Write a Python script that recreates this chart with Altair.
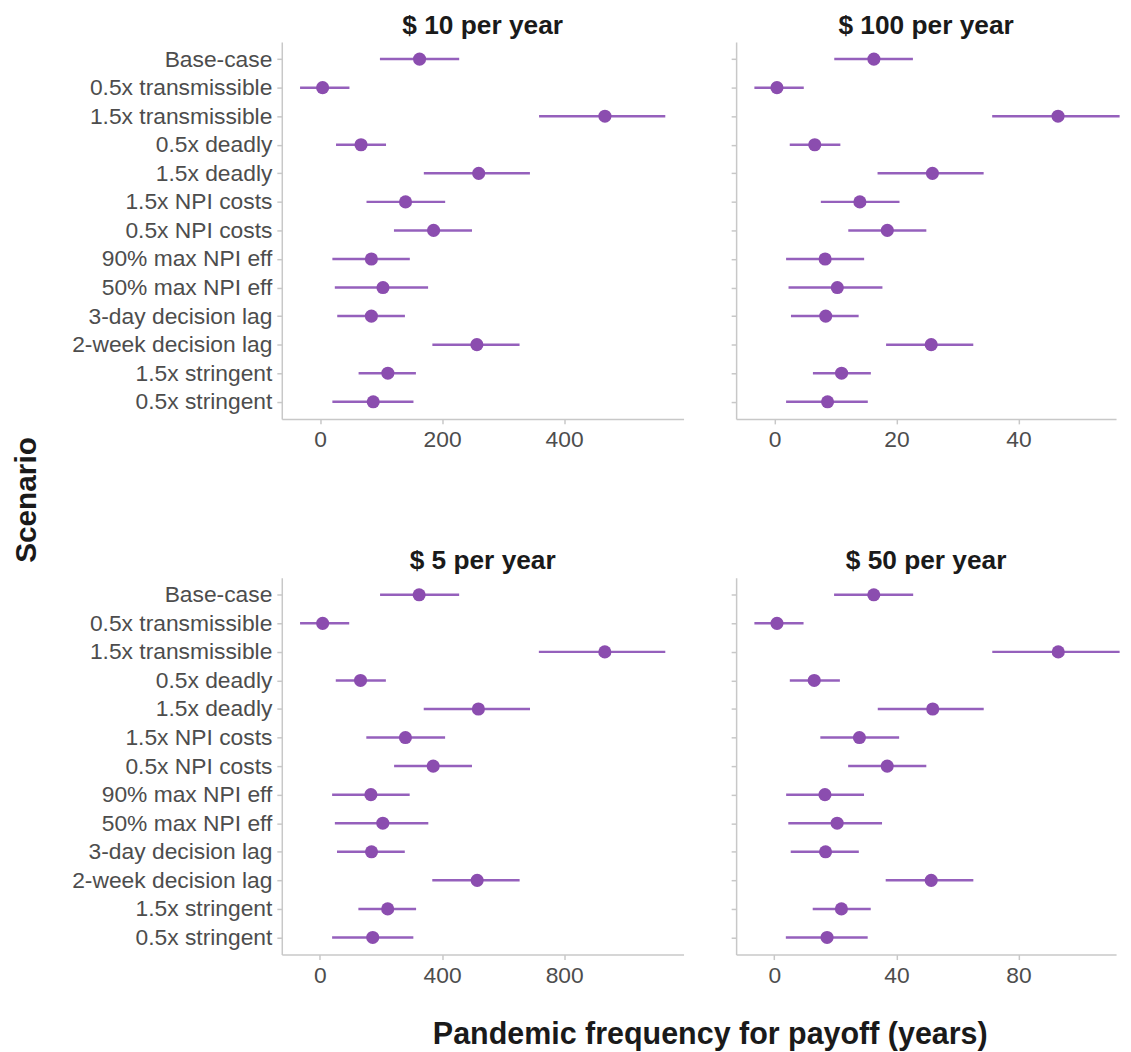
import altair as alt
import pandas as pd

scenarios = ["Base-case", "0.5x transmissible", "1.5x transmissible", "0.5x deadly",
             "1.5x deadly", "1.5x NPI costs", "0.5x NPI costs", "90% max NPI eff",
             "50% max NPI eff", "3-day decision lag", "2-week decision lag",
             "1.5x stringent", "0.5x stringent"]

panel_titles = ["$ 10 per year", "$ 100 per year", "$ 5 per year", "$ 50 per year"]

est_10 = [163, 4, 467, 67, 260, 140, 186, 84, 103, 84, 257, 111, 87]
lo_10 = [98, -33, 359, 26, 170, 76, 121, 20, 24, 28, 184, 63, 20]
hi_10 = [228, 48, 566, 108, 344, 205, 249, 147, 177, 139, 327, 157, 153]

est_100 = [16.3, 0.4, 46.5, 6.6, 25.9, 14.0, 18.5, 8.3, 10.3, 8.4, 25.7, 11.0, 8.7]
lo_100 = [9.8, -3.3, 35.7, 2.5, 16.9, 7.6, 12.1, 1.9, 2.3, 2.7, 18.3, 6.3, 1.9]
hi_100 = [22.7, 4.8, 56.6, 10.8, 34.3, 20.5, 24.9, 14.7, 17.7, 13.8, 32.6, 15.8, 15.3]

est_5 = [325, 9, 933, 133, 519, 280, 371, 167, 206, 169, 515, 222, 173]
lo_5 = [197, -65, 717, 52, 340, 152, 243, 40, 49, 56, 368, 126, 40]
hi_5 = [456, 96, 1131, 216, 688, 410, 498, 294, 355, 278, 654, 315, 306]

est_50 = [32.6, 0.9, 93.0, 13.1, 51.9, 27.9, 37.0, 16.6, 20.6, 16.8, 51.4, 22.0, 17.3]
lo_50 = [19.6, -6.5, 71.4, 5.1, 33.9, 15.1, 24.2, 3.9, 4.6, 5.4, 36.5, 12.6, 3.8]
hi_50 = [45.5, 9.6, 113.1, 21.5, 68.6, 40.9, 49.8, 29.4, 35.3, 27.7, 65.2, 31.6, 30.6]

ticks_10 = [0, 200, 400]
ticks_100 = [0, 20, 40]
ticks_5 = [0, 400, 800]
ticks_50 = [0, 40, 80]

POINT_COLOR = "#8B4DAF"
LINE_COLOR = "#9560BC"
FULL_W = 405
LEFT_W = 405
RIGHT_W = 383
PANEL_H = 380


def panel(title, est, lo, hi, ticks, width, show_labels):
    df = pd.DataFrame({"scenario": scenarios, "est": est, "lo": lo, "hi": hi})
    span = max(hi) - min(lo)
    d0 = min(lo) - 0.05 * span
    full = span * 1.1
    d1 = d0 + full * width / FULL_W
    xscale = alt.Scale(domain=[d0, d1], nice=False, zero=False)
    xaxis = alt.Axis(values=ticks, title=None, grid=False, format="d")
    yenc = alt.Y("scenario:N", sort=scenarios,
                 scale=alt.Scale(type="point", padding=0.6),
                 axis=alt.Axis(title=None, labels=show_labels, grid=False, labelLimit=0))
    rules = alt.Chart(df).mark_rule(color=LINE_COLOR, strokeWidth=2.5).encode(
        x=alt.X("lo:Q", scale=xscale, axis=xaxis), x2="hi:Q", y=yenc)
    pts = alt.Chart(df).mark_circle(size=175, color=POINT_COLOR, opacity=1).encode(
        x=alt.X("est:Q", scale=xscale, axis=xaxis), y=yenc)
    return alt.layer(rules, pts).properties(
        width=width, height=PANEL_H,
        title=alt.TitleParams(title, fontSize=26.5, font="Liberation Sans",
                              fontWeight="bold", color="#1A1A1A", offset=3))


p10 = panel(panel_titles[0], est_10, lo_10, hi_10, ticks_10, LEFT_W, True)
p100 = panel(panel_titles[1], est_100, lo_100, hi_100, ticks_100, RIGHT_W, False)
p5 = panel(panel_titles[2], est_5, lo_5, hi_5, ticks_5, LEFT_W, True)
p50 = panel(panel_titles[3], est_50, lo_50, hi_50, ticks_50, RIGHT_W, False)

row1 = alt.hconcat(p10, p100, spacing=47)
row2 = alt.hconcat(p5, p50, spacing=47)

grid = alt.vconcat(row1, row2, spacing=97).properties(
    title=alt.TitleParams("Scenario", orient="left", anchor="middle", fontSize=30,
                          font="Liberation Sans", fontWeight="bold", color="#1A1A1A",
                          offset=30))

chart = alt.vconcat(grid).properties(
    title=alt.TitleParams("Pandemic frequency for payoff (years)", orient="bottom",
                          anchor="middle", fontSize=30.7, font="Liberation Sans",
                          fontWeight="bold", color="#1A1A1A", offset=33, dx=145),
    padding={"left": 3, "top": 0, "right": 2, "bottom": 2},
).configure_view(strokeWidth=0).configure_axis(
    domainColor="#C8C8C8", domainWidth=1.5, tickColor="#C8C8C8", tickWidth=1.5,
    tickSize=5, labelFont="Liberation Sans", labelFontSize=23, labelColor="#4D4D4D",
    labelPadding=5
).configure_concat(spacing=0)

chart.save("out.html", embed_options={"renderer": "svg", "actions": False})
